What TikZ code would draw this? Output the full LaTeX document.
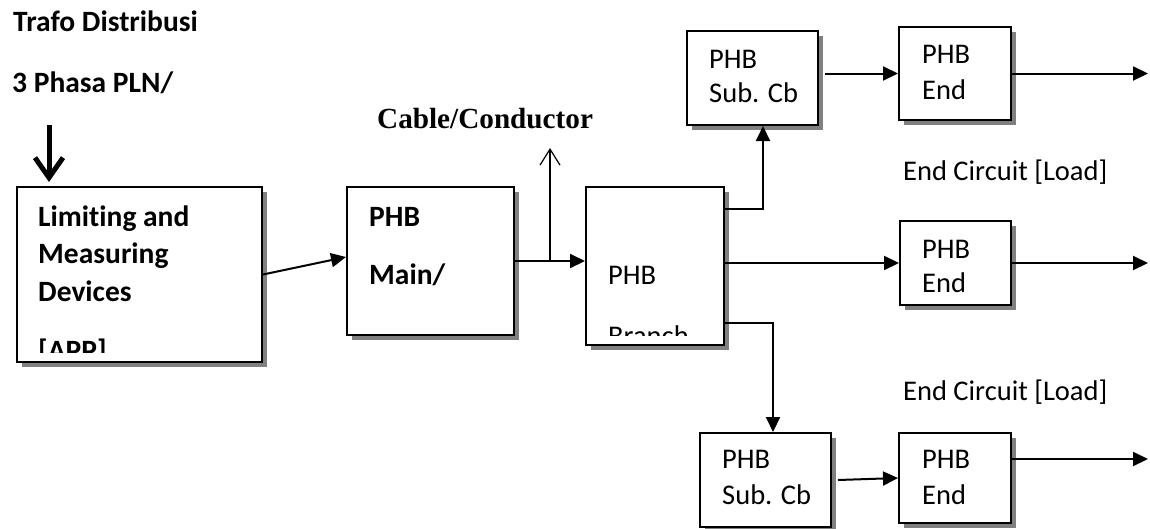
\documentclass[tikz,border=0pt]{standalone}
\usepackage{fontspec}
\setmainfont{Carlito}[Ligatures=NoCommon]
\newfontfamily\cablefont{Liberation Serif}
\usepackage{tikz}
\usetikzlibrary{positioning, arrows.meta, shadows}
\definecolor{shade-gray}{HTML}{808080}

\begin{document}
\begin{tikzpicture}[x=1pt, y=-1pt,
    box/.style={draw, line width=2pt, fill=white, inner sep=0pt,
                drop shadow={shadow xshift=5pt, shadow yshift=-5pt, fill=shade-gray, opacity=1}},
    arr/.style={-{Triangle[length=15pt, width=14pt]}, line width=2pt},
    lbl/.style={anchor=base west, inner sep=0pt, font=\fontsize{28.5}{34}\selectfont},
    blbl/.style={anchor=base west, inner sep=0pt, font=\fontsize{29.5}{36}\selectfont\bfseries},
]
    \useasboundingbox (0,0) rectangle (1150,528);

    % Source
    \node[blbl] (trafo) at (13,31.5) {Trafo Distribusi};
    \node[blbl] (pln)   at (12,92)   {3 Phasa PLN/};

    % Boxes
    \node[box, minimum width=245pt, minimum height=175pt] (lim)    at (139.5,274.5) {};
    \node[box, minimum width=167pt, minimum height=148pt] (main)   at (430.5,261)   {};
    \node[box, minimum width=138pt, minimum height=158pt] (branch) at (655,266)     {};
    \node[box, minimum width=131pt, minimum height=94pt]  (subtop) at (752.5,78)    {};
    \node[box, minimum width=112pt, minimum height=93pt]  (endtop) at (955,73.5)    {};
    \node[box, minimum width=111pt, minimum height=84pt]  (endmid) at (955.5,263)   {};
    \node[box, minimum width=131pt, minimum height=94pt]  (sublow) at (765.5,480)   {};
    \node[box, minimum width=112pt, minimum height=90pt]  (endlow) at (955,478)     {};

    % Box texts
    \node[blbl] (lim-1) at (38,226) {Limiting and};
    \node[blbl] (lim-2) at (38,263) {Measuring};
    \node[blbl] (lim-3) at (38,301) {Devices};
    \begin{scope}
        \clip (19,189) rectangle (260,352);
        \node[blbl] (lim-4) at (38,360) {[APP]};
    \end{scope}
    \node[blbl] (main-1) at (369,226) {PHB};
    \node[blbl] (main-2) at (369,284) {Main/};
    \node[lbl] (branch-1) at (608,284) {PHB};
    \begin{scope}
        \clip (588,189) rectangle (722,335);
        \node[lbl] (branch-2) at (608,345) {Branch};
    \end{scope}
    \node[lbl] (subtop-1) at (709,68)  {PHB};
    \node[lbl] (subtop-2) at (709,102) {Sub. Cb};
    \node[lbl] (endtop-1) at (922,63)  {PHB};
    \node[lbl] (endtop-2) at (922,99)  {End};
    \node[lbl] (endmid-1) at (922,258) {PHB};
    \node[lbl] (endmid-2) at (922,292) {End};
    \node[lbl] (sublow-1) at (722,468) {PHB};
    \node[lbl] (sublow-2) at (722,504) {Sub. Cb};
    \node[lbl] (endlow-1) at (922,468) {PHB};
    \node[lbl] (endlow-2) at (922,504) {End};

    % Feed
    \coordinate (feedtop) at (49,125);
    \draw[line width=5pt, -{Straight Barb[length=20pt, width=28pt]}, shorten >=4pt]
        (feedtop) -- (feedtop |- lim.north);

    % Main line
    \draw[arr] (lim.east) -- ([yshift=4pt]main.west);
    \draw[arr] (main.east) -- (main.east -| branch.west);
    \coordinate (tap) at (550,261);
    \coordinate (cabletop) at (550,148);
    \draw[line width=1.2pt, -{Straight Barb[length=16pt, width=20pt]}] (tap) -- (cabletop);
    \node[anchor=base west, inner sep=0pt, font=\cablefont\bfseries\fontsize{29.2}{35}\selectfont]
        (cable) at (377,128) {Cable/Conductor};

    % Branches
    \coordinate (upbend) at (763,209);
    \draw[arr] (upbend -| branch.east) -- (upbend) -- (upbend |- subtop.south);
    \draw[arr] (branch.east |- endmid.west) -- (endmid.west);
    \coordinate (downbend) at (773,323);
    \draw[arr] (downbend -| branch.east) -- (downbend) -- (downbend |- sublow.north);
    \draw[arr] ([xshift=6pt]subtop.east |- endtop.west) -- (endtop.west);
    \draw[arr] ([xshift=6pt]sublow.east) -- (endlow.west);

    % Outputs
    \coordinate (outtop) at (1148,73.5);
    \coordinate (outmid) at (1148,263);
    \coordinate (outlow) at (1148,459);
    \draw[arr] (endtop.east) -- (outtop);
    \draw[arr] (endmid.east) -- (outmid);
    \draw[arr] (endlow.east |- outlow) -- (outlow);

    % Loads
    \node[lbl] (load-1) at (903,180) {End Circuit [Load]};
    \node[lbl] (load-2) at (903,400) {End Circuit [Load]};
\end{tikzpicture}
\end{document}
